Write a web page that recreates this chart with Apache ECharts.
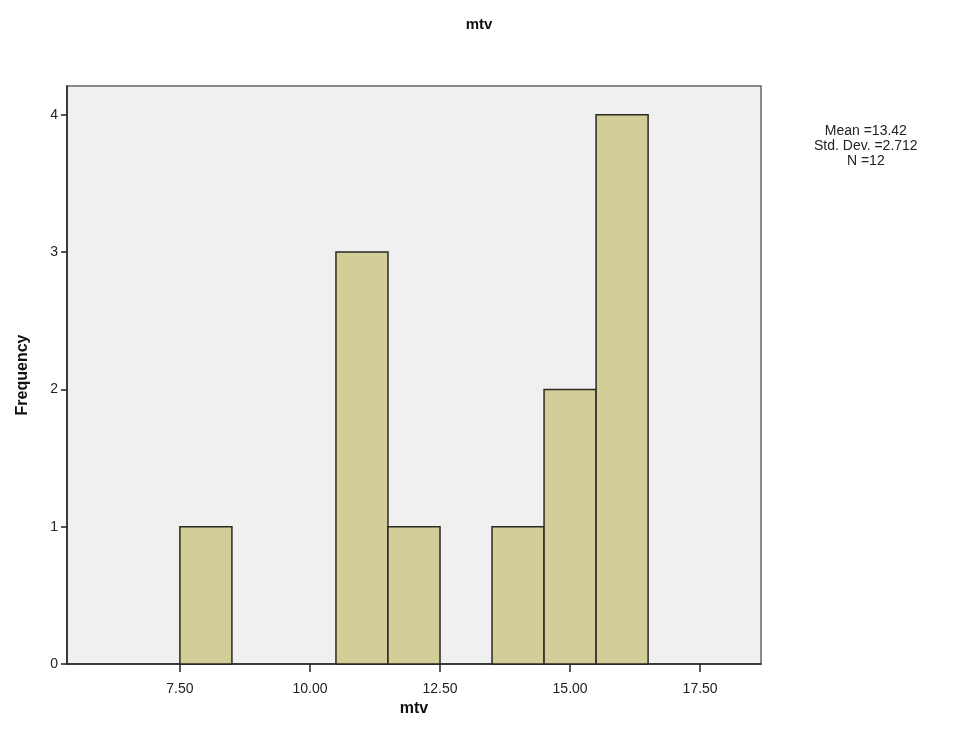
<!DOCTYPE html>
<html>
<head>
<meta charset="utf-8">
<script src="https://cdn.jsdelivr.net/npm/echarts@6/dist/echarts.min.js"></script>
<style>html,body{margin:0;padding:0;background:#fff}#c{width:958px;height:746px}</style>
</head>
<body>
<div id="c"></div>
<script>
var binCenters = [8, 11, 12, 14, 15, 16];
var counts = [1, 3, 1, 1, 2, 4];
var binWidth = 1;
var xTicks = [7.5, 10, 12.5, 15, 17.5];
var yTicks = [0, 1, 2, 3, 4];
var statsLines = ['Mean =13.42', 'Std. Dev. =2.712', 'N =12'];

var data = binCenters.map(function (c, i) { return [c - binWidth / 2, c + binWidth / 2, counts[i]]; });

var chart = echarts.init(document.getElementById('c'));
chart.setOption({
  backgroundColor: '#ffffff',
  animation: false,
  title: {
    text: 'mtv', left: 'center', top: 12,
    textStyle: { fontFamily: 'Liberation Sans, Arial', fontSize: 15, fontWeight: 'bold', color: '#111' }
  },
  graphic: [{
    type: 'text', left: 814, top: 124,
    style: {
      text: statsLines.join('\n'), textAlign: 'center', x: 52,
      fontFamily: 'Liberation Sans, Arial', fontSize: 14, lineHeight: 15, fill: '#222'
    }
  }],
  grid: {
    left: 67, right: 197, top: 86, bottom: 82,
    show: true, backgroundColor: '#f0f0f0', borderColor: '#666', borderWidth: 1.5
  },
  xAxis: {
    type: 'value', min: 5.33, max: 18.67,
    name: 'mtv', nameLocation: 'middle', nameGap: 32,
    nameTextStyle: { fontFamily: 'Liberation Sans, Arial', fontSize: 16, fontWeight: 'bold', color: '#111' },
    axisLine: { show: true, lineStyle: { color: '#222', width: 1.5 } },
    axisTick: { show: true, length: 8, lineStyle: { color: '#222', width: 1.5 }, customValues: xTicks },
    axisLabel: {
      customValues: xTicks, margin: 18,
      fontFamily: 'Liberation Sans, Arial', fontSize: 14, color: '#222',
      formatter: function (v) { return v.toFixed(2); }
    },
    splitLine: { show: false }
  },
  yAxis: {
    type: 'value', min: 0, max: 4.21,
    name: 'Frequency', nameLocation: 'middle', nameGap: 36,
    nameTextStyle: { fontFamily: 'Liberation Sans, Arial', fontSize: 16, fontWeight: 'bold', color: '#111' },
    axisLine: { show: true, lineStyle: { color: '#222', width: 1.5 } },
    axisTick: { show: true, length: 6, lineStyle: { color: '#222', width: 1.5 }, customValues: yTicks },
    axisLabel: {
      customValues: yTicks, margin: 9,
      fontFamily: 'Liberation Sans, Arial', fontSize: 14, color: '#222',
      formatter: function (v) { return String(Math.round(v)); }
    },
    splitLine: { show: false }
  },
  series: [{
    type: 'custom',
    data: data,
    encode: { x: [0, 1], y: 2 },
    renderItem: function (params, api) {
      var p0 = api.coord([api.value(0), api.value(2)]);
      var p1 = api.coord([api.value(1), 0]);
      return {
        type: 'rect',
        shape: { x: p0[0], y: p0[1], width: p1[0] - p0[0], height: p1[1] - p0[1] },
        style: { fill: '#d3ce98', stroke: '#2a2a22', lineWidth: 1.5 }
      };
    }
  }]
});
</script>
</body>
</html>
